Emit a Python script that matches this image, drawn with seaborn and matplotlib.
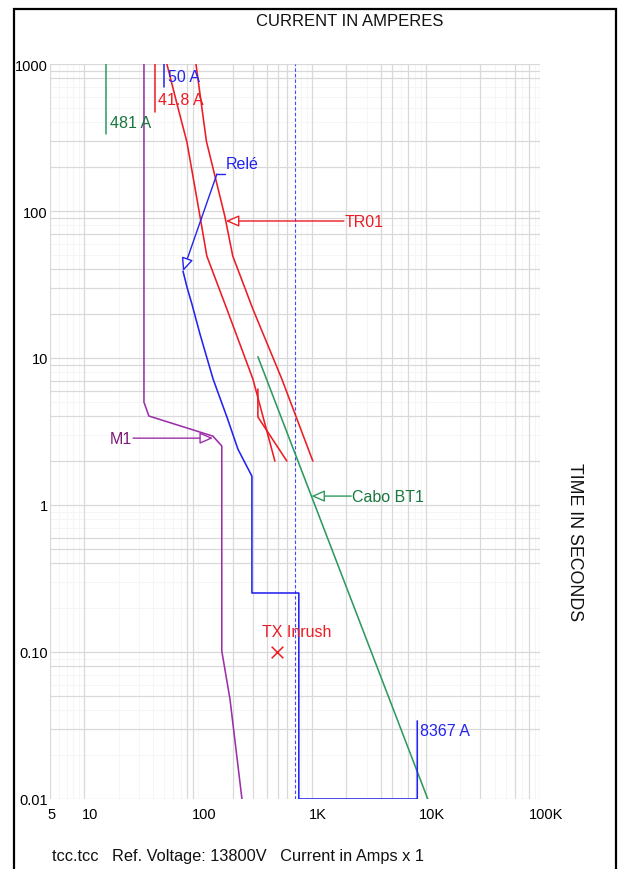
import matplotlib
matplotlib.use("Agg")
import matplotlib.pyplot as plt
import seaborn as sns
import pandas as pd
import numpy as np
from matplotlib.patches import Rectangle
from matplotlib.transforms import ScaledTranslation

# ---------------- data ----------------
rele_I = [73.5, 80, 88, 103.5, 135, 180, 223, 296, 296, 764, 764, 8367, 8367]
rele_t = [39, 30, 23.3, 14.6, 7.2, 3.9, 2.4, 1.57, 0.252, 0.252, 0.01, 0.01, 0.034]

m1_I = [33.4, 33.4, 36.9, 134.6, 161, 161, 190, 242]
m1_t = [1000, 5.0, 4.03, 2.94, 2.52, 0.1016, 0.0478, 0.01]

tr_a_I = [53.1, 64.6, 79.6, 103.5, 119, 178.5, 302, 471]
tr_a_t = [1000, 548, 294, 92.5, 49.4, 21.5, 7.19, 1.99]
tr_b_I = [95.5, 118, 171, 201, 302, 542, 1014]
tr_b_t = [1000, 298, 92.5, 49.4, 21.5, 7.19, 1.99]
tr_c_I = [334, 334, 600]
tr_c_t = [6.15, 3.97, 1.99]

cabo_I = [334, 10350]
cabo_t = [10.2, 0.01]

inrush_I = [488]
inrush_t = [0.1]

rele_pickup = 50        # "50 A"
tr_pickup = 41.8        # "41.8 A"
cabo_marker = 15.5      # "481 A"
rele_dash = 705

x_ticks = [5, 10, 100, 1000, 10000, 100000]
x_labels = ["5", "10", "100", "1K", "10K", "100K"]
y_ticks = [0.01, 0.1, 1, 10, 100, 1000]
y_labels = ["0.01", "0.10", "1", "10", "100", "1000"]

# ---------------- style ----------------
sns.set_theme(style="white")
plt.rcParams["font.family"] = ["Liberation Sans", "DejaVu Sans"]

RED = "#ec1c24"
BLUE = "#2323f0"
GREEN = "#2e9a5e"
GREEN_T = "#17773f"
PURPLE = "#9b30a8"
PURPLE_T = "#7a1a7a"

fig = plt.figure(figsize=(6.21, 8.70), dpi=100)
W, H = 621, 870
ax = fig.add_axes([50 / W, 70 / H, 490 / W, 735 / H])
ax.set_xscale("log")
ax.set_yscale("log")
ax.set_xlim(5, 100000)
ax.set_ylim(0.01, 1000)

# grid: all minor lines very faint, visible ones a bit darker
for dec in [1, 10, 100, 1000, 10000]:
    for m in range(1, 10):
        v = dec * m
        if 5 <= v <= 100000:
            ax.axvline(v, color="#f5f5f5", lw=0.7, zorder=0)
for dec in [0.01, 0.1, 1, 10, 100]:
    for m in range(1, 10):
        ax.axhline(dec * m, color="#f5f5f5", lw=0.7, zorder=0)
vgrid = [5, 10, 80, 90, 200, 300, 400, 500, 600, 1000, 2000, 4000, 5000, 7000,
         10000, 30000, 60000, 80000, 100000]
hgrid = [1000, 900, 800, 300, 200, 100, 90, 70, 40, 30, 20, 10, 9, 7, 6, 4, 2,
         1, 0.6, 0.5, 0.4, 0.1, 0.08, 0.05, 0.03, 0.01]
for v in vgrid:
    ax.axvline(v, color="#d9d9d9", lw=0.9, zorder=0.5)
for v in hgrid:
    ax.axhline(v, color="#d9d9d9", lw=0.9, zorder=0.5)

for s in ax.spines.values():
    s.set_visible(False)

# dashed relay line
ax.axvline(rele_dash, color="#4646ff", lw=0.8, ls=(0, (3, 2)), zorder=2)

# ---------------- curves ----------------
def curve(I, t, color, lw=1.15):
    df = pd.DataFrame({"I": I, "t": t})
    sns.lineplot(data=df, x="I", y="t", sort=False, estimator=None,
                 color=color, lw=lw, ax=ax, zorder=3)

curve(tr_a_I, tr_a_t, RED)
curve(tr_b_I, tr_b_t, RED)
curve(tr_c_I, tr_c_t, RED)
curve(cabo_I, cabo_t, GREEN)
curve(m1_I, m1_t, PURPLE)
curve(rele_I, rele_t, BLUE)

# pickup markers
ax.plot([rele_pickup, rele_pickup], [1000, 698], color=BLUE, lw=1.1, zorder=3)
ax.plot([tr_pickup, tr_pickup], [1000, 471], color=RED, lw=1.1, zorder=3)
ax.plot([cabo_marker, cabo_marker], [1000, 334], color=GREEN, lw=1.1, zorder=3)

sns.scatterplot(x=inrush_I, y=inrush_t, marker="x", color=RED, s=70,
                linewidth=1.1, ax=ax, zorder=4)

# ---------------- labels ----------------
fs = 11.5
ax.text(54.2, 816, "50 A", color=BLUE, fontsize=fs, ha="left", va="center")
ax.text(44.3, 569, "41.8 A", color=RED, fontsize=fs, ha="left", va="center")
ax.text(16.8, 397, "481 A", color=GREEN_T, fontsize=fs, ha="left", va="center")
ax.text(8810, 0.0294, "8367 A", color=BLUE, fontsize=fs, ha="left", va="center")
ax.text(362, 0.137, "TX Inrush", color=RED, fontsize=fs, ha="left", va="center")

ap = dict(arrowstyle="-|>,head_length=0.8,head_width=0.35", lw=1.0,
          shrinkA=0, shrinkB=0, mutation_scale=10, fc="white")

ax.text(174, 209, "Relé", color=BLUE, fontsize=fs, ha="left", va="center")
ax.plot([171, 146], [178.7, 178.7], color=BLUE, lw=1.0)
ax.annotate("", xy=(73.5, 39), xytext=(146, 178.7),
            arrowprops=dict(ap, ec=BLUE))

ax.text(1937, 85.5, "TR01", color=RED, fontsize=fs, ha="left", va="center")
ax.annotate("", xy=(175, 85.5), xytext=(1900, 85.5),
            arrowprops=dict(ap, ec=RED))

ax.text(26.2, 2.85, "M1", color=PURPLE_T, fontsize=fs, ha="right", va="center")
ax.annotate("", xy=(134.6, 2.85), xytext=(26.8, 2.85),
            arrowprops=dict(ap, ec=PURPLE))

ax.text(2230, 1.15, "Cabo BT1", color=GREEN_T, fontsize=fs, ha="left", va="center")
ax.annotate("", xy=(986, 1.15), xytext=(2200, 1.15),
            arrowprops=dict(ap, ec=GREEN))

# ---------------- axes ticks ----------------
ax.set_xticks(x_ticks)
ax.set_xticklabels(x_labels)
ax.set_yticks(y_ticks)
ax.set_yticklabels(y_labels)
ax.minorticks_off()
ax.tick_params(axis="both", length=0, labelsize=10.5, colors="black")
ax.tick_params(axis="x", pad=6)
ax.tick_params(axis="y", pad=1.5)
ax.set_xlabel("")
ax.set_ylabel("")
for i, lbl in enumerate(ax.get_xticklabels()):
    dx = 2 if i == 0 else 6
    lbl.set_transform(lbl.get_transform() + ScaledTranslation(dx / 100, 0, fig.dpi_scale_trans))

# ---------------- figure texts and frame ----------------
fig.text(350 / W, 1 - 22 / H, "CURRENT IN AMPERES", fontsize=12,
         ha="center", va="center", color="#111111")
fig.text(574 / W, 1 - 542 / H, "TIME IN SECONDS", fontsize=12.8,
         ha="center", va="center", rotation=270, color="#111111")
fig.text(52 / W, 1 - 857 / H,
         "tcc.tcc   Ref. Voltage: 13800V   Current in Amps x 1",
         fontsize=11.8, ha="left", va="center", color="#111111")
fig.patches.append(Rectangle((14 / W, -0.05), 602 / W, 1.05 - 10 / H,
                             transform=fig.transFigure, fill=False,
                             ec="black", lw=1.6))

fig.savefig("out.png", dpi=100)
